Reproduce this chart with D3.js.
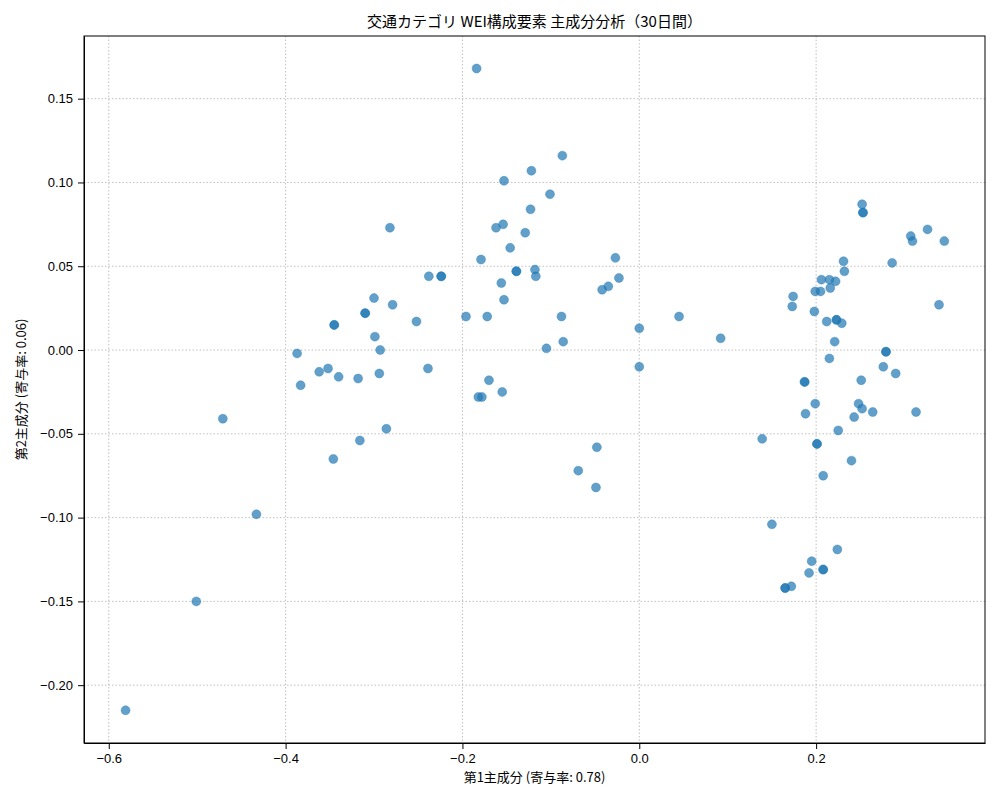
<!DOCTYPE html>
<html><head><meta charset="utf-8">
<script src="https://cdn.jsdelivr.net/npm/d3@7/dist/d3.min.js"></script>
<style>
body{margin:0;background:#fff;font-family:"Noto Sans CJK JP","DejaVu Sans",sans-serif;}
.grid line{stroke:#b0b0b0;stroke-dasharray:1.5,2;stroke-width:0.8;}
.axis text{font-size:13px;fill:#000;}
</style></head><body>
<svg width="1000" height="800"></svg>
<script>
var pc1 = [-0.184,-0.087,-0.122,-0.153,-0.101,0.252,0.253,0.253,-0.123,-0.282,-0.162,-0.154,-0.129,0.307,0.309,0.326,0.345,
  -0.146,-0.027,-0.179,0.231,0.286,-0.139,-0.139,-0.118,-0.117,-0.238,-0.224,-0.224,-0.023,0.232,-0.156,0.206,0.215,0.222,
  -0.035,-0.042,0.216,0.199,0.205,-0.300,-0.153,0.174,0.339,-0.279,0.173,-0.310,-0.310,0.198,-0.196,-0.172,-0.088,0.045,
  -0.252,0.212,0.223,0.223,0.229,-0.345,-0.345,0.000,-0.299,0.092,-0.086,0.221,-0.105,-0.293,-0.387,0.279,0.279,0.215,
  0.000,0.276,-0.239,-0.352,-0.362,0.290,-0.294,-0.340,-0.318,0.251,0.187,0.187,-0.170,-0.383,-0.155,-0.178,-0.182,
  0.199,0.248,0.252,0.264,0.313,0.188,0.243,-0.471,-0.286,0.225,-0.316,0.139,0.201,0.201,-0.048,-0.346,0.240,-0.069,
  0.208,-0.049,-0.433,0.150,0.224,0.195,0.192,0.208,0.208,0.172,0.165,0.165,-0.501,-0.581];
var pc2 = [0.168,0.116,0.107,0.101,0.093,0.087,0.082,0.082,0.084,0.073,0.073,0.075,0.070,0.068,0.065,0.072,0.065,
  0.061,0.055,0.054,0.053,0.052,0.047,0.047,0.048,0.044,0.044,0.044,0.044,0.043,0.047,0.040,0.042,0.042,0.041,
  0.038,0.036,0.037,0.035,0.035,0.031,0.030,0.032,0.027,0.027,0.026,0.022,0.022,0.023,0.020,0.020,0.020,0.020,
  0.017,0.017,0.018,0.018,0.016,0.015,0.015,0.013,0.008,0.007,0.005,0.005,0.001,0.000,-0.002,-0.001,-0.001,-0.005,
  -0.010,-0.010,-0.011,-0.011,-0.013,-0.014,-0.014,-0.016,-0.017,-0.018,-0.019,-0.019,-0.018,-0.021,-0.025,-0.028,-0.028,
  -0.032,-0.032,-0.035,-0.037,-0.037,-0.038,-0.040,-0.041,-0.047,-0.048,-0.054,-0.053,-0.056,-0.056,-0.058,-0.065,-0.066,-0.072,
  -0.075,-0.082,-0.098,-0.104,-0.119,-0.126,-0.133,-0.131,-0.131,-0.141,-0.142,-0.142,-0.150,-0.215];
var xTicks = [-0.6,-0.4,-0.2,0.0,0.2];
var yTicks = [0.15,0.10,0.05,0.00,-0.05,-0.10,-0.15,-0.20];

var margin = {top: 36, right: 15, bottom: 57, left: 84};
var width = 1000 - margin.left - margin.right,
    height = 800 - margin.top - margin.bottom;

var svg = d3.select("svg");
var g = svg.append("g").attr("transform", "translate(" + margin.left + "," + margin.top + ")");

var x = d3.scaleLinear().domain([-0.628, 0.391]).range([0, width]);
var y = d3.scaleLinear().domain([-0.2345, 0.1874]).range([height, 0]);

g.append("g").attr("class", "grid").selectAll("line").data(xTicks).enter().append("line")
    .attr("x1", x).attr("x2", x).attr("y1", 0).attr("y2", height);
g.append("g").attr("class", "grid").selectAll("line").data(yTicks).enter().append("line")
    .attr("y1", y).attr("y2", y).attr("x1", 0).attr("x2", width);

g.selectAll("circle").data(pc1).enter().append("circle")
    .attr("cx", function(d) { return x(d); })
    .attr("cy", function(d, i) { return y(pc2[i]); })
    .attr("r", 4.5)
    .style("fill", "#1f77b4")
    .style("fill-opacity", 0.7)
    .style("stroke", "#1f77b4")
    .style("stroke-opacity", 0.7)
    .style("stroke-width", 0.5);

g.append("g").attr("class", "axis").attr("transform", "translate(0," + height + ")")
    .call(d3.axisBottom(x).tickValues(xTicks).tickFormat(d3.format(".1f")).tickSizeOuter(0).tickPadding(5))
    .selectAll("text").text(function(d) { return d3.format(".1f")(d).replace("-", "\u2212"); });
g.append("g").attr("class", "axis")
    .call(d3.axisLeft(y).tickValues(yTicks).tickFormat(d3.format(".2f")).tickSizeOuter(0).tickPadding(5))
    .selectAll("text").text(function(d) { return d3.format(".2f")(d).replace("-", "\u2212"); });

g.append("rect").attr("width", width).attr("height", height)
    .style("fill", "none").style("stroke", "#000").style("stroke-width", 1);

svg.append("text").attr("x", margin.left + width / 2).attr("y", 27).attr("text-anchor", "middle")
    .style("font-size", "15px").text("交通カテゴリ WEI構成要素 主成分分析（30日間）");
svg.append("text").attr("x", margin.left + width / 2).attr("y", 782).attr("text-anchor", "middle")
    .style("font-size", "13px").text("第1主成分 (寄与率: 0.78)");
svg.append("text").attr("transform", "translate(26," + (margin.top + height / 2) + ") rotate(-90)")
    .attr("text-anchor", "middle").style("font-size", "13px").text("第2主成分 (寄与率: 0.06)");
</script>
</body></html>
